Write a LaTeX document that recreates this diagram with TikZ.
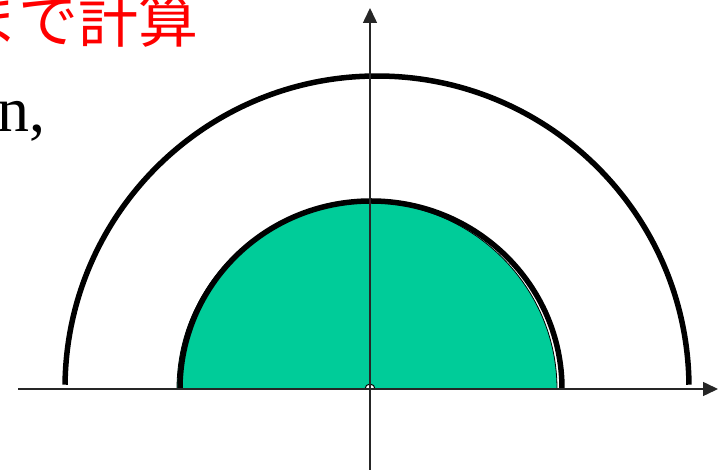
\documentclass[tikz,border=0pt]{standalone}
\usepackage{fontspec}
\setmainfont{Liberation Serif}
\newfontfamily\jpfont{Noto Sans CJK JP}
\usetikzlibrary{arrows.meta}
\definecolor{HalbGruen}{HTML}{00CC99}
\definecolor{TextRot}{HTML}{FF0000}

\begin{document}
\begin{tikzpicture}[x=1pt, y=1pt,
    achse/.style={line width=1.5pt, black!85, -{Triangle[length=15pt, width=14pt]}},
    bogen/.style={line width=5.5pt}]
    \useasboundingbox (0,0) rectangle (719,470);
    \clip (0,0) rectangle (719,470);

    % Textreste oben links
    \node[anchor=base east, inner sep=0pt, text=TextRot, font=\jpfont\fontsize{60}{72}\selectfont] (titel) at (199,427) {まで計算};
    \node[anchor=base east, inner sep=0pt, font=\fontsize{64}{76}\selectfont] (zeile) at (46,338) {n,};

    % Achsenpunkte
    \coordinate (O) at (370,81);
    \coordinate (xlinks) at (18,81);
    \coordinate (xrechts) at (718,81);
    \coordinate (yunten) at (370,0);
    \coordinate (yoben) at (370,462);

    % gefuellter Halbkreis
    \draw[fill=HalbGruen, line width=0.8pt] (557,81) arc[start angle=0, end angle=180, x radius=190, y radius=187] -- cycle;
    \draw[bogen] (562,81) arc[start angle=0, end angle=180, x radius=191, y radius=188];

    % aeusserer Halbkreis
    \draw[bogen] (377,82) ++(0.6:312) arc[start angle=0.6, end angle=179.4, radius=312];

    % kleiner Halbkreis im Ursprung
    \draw[fill=white, line width=1pt] (O) ++(5,0) arc[start angle=0, end angle=180, radius=5] -- cycle;

    % Achsen
    \draw[achse] (xlinks) -- (xrechts);
    \draw[achse] (yunten) -- (yoben);
\end{tikzpicture}
\end{document}
